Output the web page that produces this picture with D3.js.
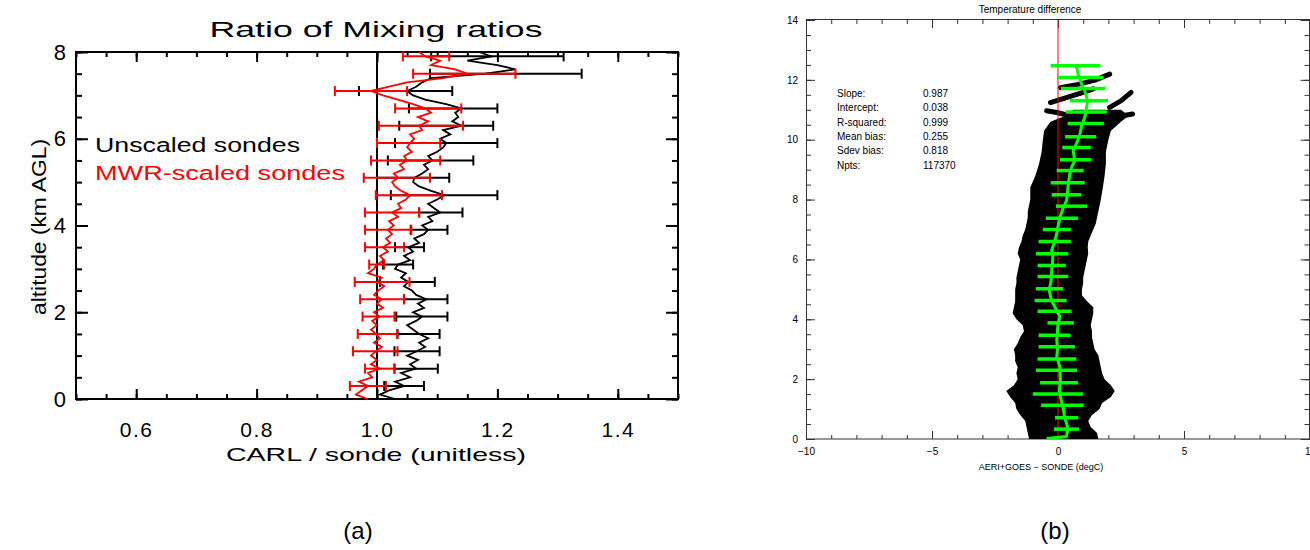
<!DOCTYPE html>
<html><head><meta charset="utf-8">
<script src="https://cdn.jsdelivr.net/npm/d3@7"></script>
<style>body{margin:0;background:#fff}svg{display:block}</style>
</head><body>
<svg id="c" width="1310" height="550"></svg>
<script>
// ---------------- DATA: panel (a) ----------------
const altA = [0,0.1,0.2,0.3,0.4,0.5,0.6,0.7,0.8,0.9,1.0,1.1,1.2,1.3,1.4,1.5,1.6,1.7,1.8,1.9,
  2.0,2.1,2.2,2.3,2.4,2.5,2.6,2.7,2.8,2.9,3.0,3.1,3.2,3.3,3.4,3.5,3.6,3.7,3.8,3.9,
  4.0,4.1,4.2,4.3,4.4,4.5,4.6,4.7,4.8,4.9,5.0,5.1,5.2,5.3,5.4,5.5,5.6,5.7,5.8,5.9,
  6.0,6.1,6.2,6.3,6.4,6.5,6.6,6.7,6.8,6.9,7.0,7.1,7.2,7.3,7.4,7.5,7.6,7.7,7.8,7.9,8.0];
const unscaled = [1.030,1.005,1.020,1.045,1.030,1.055,1.040,1.065,1.055,1.068,1.050,1.066,1.080,1.070,1.085,1.070,1.060,1.050,1.065,1.075,
  1.060,1.078,1.068,1.082,1.065,1.058,1.045,1.052,1.040,1.048,1.030,1.035,1.055,1.045,1.060,1.052,1.070,1.062,1.078,1.085,
  1.075,1.092,1.085,1.105,1.095,1.085,1.100,1.112,1.090,1.070,1.060,1.062,1.075,1.085,1.078,1.092,1.085,1.100,1.110,1.115,
  1.105,1.122,1.110,1.140,1.125,1.135,1.130,1.140,1.115,1.080,1.060,1.050,1.065,1.075,1.090,1.180,1.230,1.200,1.150,1.190,1.170];
const mwrScaled = [0.985,0.965,0.975,0.985,0.970,0.992,0.985,1.005,0.990,1.000,0.990,0.998,1.008,0.995,1.005,0.998,0.990,1.000,0.992,1.004,
  0.995,1.010,1.000,1.008,0.995,1.002,1.012,1.000,1.008,0.985,0.995,1.000,1.012,1.005,1.018,1.010,1.022,1.015,1.025,1.018,
  1.028,1.020,1.035,1.025,1.040,1.035,1.048,1.055,1.040,1.030,1.025,1.035,1.028,1.045,1.038,1.050,1.045,1.058,1.050,1.055,
  1.062,1.055,1.075,1.070,1.085,1.068,1.090,1.080,1.060,1.035,1.010,0.990,1.020,1.050,1.110,1.150,1.130,1.090,1.105,1.080,1.070];
const barAltA = [0.3,0.7,1.1,1.5,1.9,2.3,2.7,3.1,3.5,3.9,4.3,4.7,5.1,5.5,5.9,6.3,6.7,7.1,7.5,7.9];
const unscaledLo = [1.012,1.029,1.029,1.034,1.032,1.045,1.005,1.010,1.030,1.056,1.070,1.023,1.000,1.018,1.030,1.037,1.053,0.970,1.088,1.090];
const unscaledHi = [1.078,1.101,1.104,1.104,1.117,1.117,1.096,1.060,1.078,1.117,1.142,1.200,1.120,1.160,1.200,1.193,1.200,1.125,1.340,1.310];
const mwrLo = [0.955,0.980,0.960,0.968,0.976,0.972,0.963,0.987,0.980,0.980,0.980,0.998,0.978,0.990,1.000,1.003,1.030,0.930,1.060,1.043];
const mwrHi = [1.015,1.029,1.034,1.034,1.029,1.045,1.054,1.012,1.045,1.057,1.070,1.108,1.088,1.105,1.105,1.143,1.140,1.050,1.230,1.120];
const xMajorA = [0.6,0.8,1.0,1.2,1.4];
const yMajorA = [0,2,4,6,8];
const legendA = ["Unscaled sondes","MWR-scaled sondes"];

// ---------------- DATA: panel (b) ----------------
const cloudAlt = [0.0,0.2,0.4,0.6,0.8,1.0,1.2,1.4,1.6,1.8,2.0,2.2,2.4,2.6,2.8,3.0,3.2,3.4,3.6,3.8,
  4.0,4.2,4.4,4.6,4.8,5.0,5.2,5.4,5.6,5.8,6.0,6.2,6.4,6.6,6.8,7.0,7.2,7.4,7.6,7.8,
  8.0,8.4,8.8,9.2,9.6,10.0,10.3,10.6,10.8,11.0];
const cloudLeft = [-1.15,-1.2,-1.25,-1.3,-1.5,-1.65,-1.7,-1.9,-2.05,-1.75,-1.6,-1.65,-1.6,-1.7,-1.7,-1.75,-1.6,-1.5,-1.35,-1.4,
  -1.65,-1.8,-1.75,-1.7,-1.7,-1.7,-1.65,-1.65,-1.6,-1.55,-1.5,-1.6,-1.55,-1.45,-1.4,-1.3,-1.25,-1.2,-1.2,-1.15,
  -1.1,-1.1,-0.9,-0.75,-0.65,-0.6,-0.55,-0.3,0.3,0.6];
const cloudRight = [1.6,1.55,1.3,1.2,1.35,1.65,1.75,2.1,2.25,2.1,1.85,1.75,1.7,1.65,1.6,1.45,1.4,1.35,1.35,1.3,
  1.35,1.4,1.4,1.15,0.95,0.95,1.0,1.0,1.05,1.1,1.15,1.2,1.18,1.2,1.3,1.4,1.5,1.55,1.6,1.65,
  1.7,1.78,1.85,1.9,1.9,2.0,2.1,2.5,2.8,2.5];
const streaks = [
  [[0.1,11.74],[0.8,11.85],[1.5,12.0],[2.05,12.19]],
  [[-0.3,11.24],[0.3,11.4],[1.0,11.58],[1.4,11.7]],
  [[2.05,11.08],[2.5,11.3],[2.9,11.58]],
  [[-0.45,10.97],[0.0,10.9],[0.47,10.8]],
  [[1.52,10.63],[2.2,10.75],[2.96,10.86]]
];
const meanAlt = [0.02,0.08,0.3,0.5,0.74,1.08,1.3,1.63,1.9,2.19,2.41,2.74,3.0,3.3,3.6,3.86,4.08,4.25,4.41,4.63,
  4.97,5.25,5.53,5.85,6.19,6.3,6.63,6.86,7.1,7.41,7.7,7.97,8.25,8.52,8.86,9.1,9.3,9.63,9.9,10.19,
  10.5,10.74,11.0,11.3,11.63,11.85,12.19,12.47];
const meanDiff = [-0.45,0.33,0.39,0.35,0.26,0.2,0.13,0.05,0.1,0.08,0.08,-0.05,-0.02,-0.05,-0.02,0.0,0.08,-0.02,-0.12,-0.26,
  -0.35,-0.28,-0.26,-0.22,-0.2,-0.25,-0.12,-0.05,0.0,0.08,0.2,0.34,0.38,0.41,0.47,0.55,0.67,0.6,0.75,0.87,
  0.95,1.06,1.12,1.18,1.06,0.94,0.8,0.73];
const barAltB = [0.33,0.71,1.13,1.5,1.88,2.3,2.67,3.08,3.47,3.88,4.27,4.63,5.02,5.43,5.8,6.19,
  6.6,7.0,7.38,7.78,8.16,8.56,8.97,9.33,9.74,10.1,10.54,10.93,11.3,11.71,12.08,12.47];
const barLoB = [-0.16,-0.12,-0.67,-1.0,-0.71,-0.87,-0.81,-0.77,-0.77,-0.42,-0.81,-0.93,-0.88,-0.81,-0.81,-0.87,
  -0.77,-0.6,-0.48,-0.08,-0.25,-0.29,-0.05,0.08,0.17,0.28,0.38,0.31,0.47,0.12,-0.03,-0.29];
const barHiB = [0.84,0.8,1.02,1.0,0.8,0.76,0.73,0.67,0.5,0.63,0.54,0.34,0.21,0.41,0.31,0.41,
  0.51,0.51,0.8,1.15,0.93,1.06,1.02,1.33,1.3,1.52,1.82,1.94,1.98,1.89,1.81,1.68];
const statLabels = ["Slope:","Intercept:","R-squared:","Mean bias:","Sdev bias:","Npts:"];
const statValues = ["0.987","0.038","0.999","0.255","0.818","117370"];
const xMajorB = [-10,-5,0,5,10];
const yMajorB = [0,2,4,6,8,10,12,14];
const captions = ["(a)","(b)"];

// ---------------- DRAW ----------------
const FONT = "'Liberation Sans', Arial, sans-serif";
const svg = d3.select('#c');

function styleAxis(sel, fs, sw, col) {
  sel.select('.domain').remove();
  sel.selectAll('line').attr('stroke', col).attr('stroke-width', sw);
  sel.selectAll('text').attr('font-family', FONT).attr('font-size', fs).attr('fill', '#000');
}

// ===== Panel (a) =====
const xA = d3.scaleLinear().domain([0.5, 1.5]).range([76, 678]);
const yA = d3.scaleLinear().domain([0, 8]).range([399, 52]);
const A = svg.append('g');

A.append('g').attr('transform', 'translate(0,399)')
  .call(d3.axisBottom(xA).tickValues(xA.ticks(20)).tickSizeInner(-5).tickSizeOuter(0).tickFormat(''))
  .call(styleAxis, 21, 2, '#000');
A.append('g').attr('transform', 'translate(0,399)')
  .call(d3.axisBottom(xA).tickValues(xMajorA).tickSizeInner(-10).tickSizeOuter(0).tickPadding(23).tickFormat(d3.format('.1f')))
  .call(styleAxis, 21, 2, '#000');
A.selectAll('text').attr('letter-spacing', 1.5);
A.append('g').attr('transform', 'translate(0,52)')
  .call(d3.axisTop(xA).tickValues(xA.ticks(20)).tickSizeInner(-5).tickSizeOuter(0).tickFormat(''))
  .call(styleAxis, 22, 2, '#000');
A.append('g').attr('transform', 'translate(0,52)')
  .call(d3.axisTop(xA).tickValues(xMajorA).tickSizeInner(-10).tickSizeOuter(0).tickFormat(''))
  .call(styleAxis, 22, 2, '#000');
A.append('g').attr('transform', 'translate(76,0)')
  .call(d3.axisLeft(yA).tickValues(yA.ticks(16)).tickSizeInner(-6).tickSizeOuter(0).tickFormat(''))
  .call(styleAxis, 22, 2, '#000');
A.append('g').attr('transform', 'translate(76,0)')
  .call(d3.axisLeft(yA).tickValues(yMajorA).tickSizeInner(-12).tickSizeOuter(0).tickPadding(10).tickFormat(d3.format('d')))
  .call(styleAxis, 22, 2, '#000');
A.append('g').attr('transform', 'translate(678,0)')
  .call(d3.axisRight(yA).tickValues(yA.ticks(16)).tickSizeInner(-6).tickSizeOuter(0).tickFormat(''))
  .call(styleAxis, 22, 2, '#000');
A.append('g').attr('transform', 'translate(678,0)')
  .call(d3.axisRight(yA).tickValues(yMajorA).tickSizeInner(-12).tickSizeOuter(0).tickFormat(''))
  .call(styleAxis, 22, 2, '#000');

A.append('rect').attr('x', xA(0.5)).attr('y', yA(8)).attr('width', xA(1.5) - xA(0.5)).attr('height', yA(0) - yA(8))
  .attr('fill', 'none').attr('stroke', '#000').attr('stroke-width', 2);
A.append('line').attr('x1', xA(1)).attr('x2', xA(1)).attr('y1', yA(0)).attr('y2', yA(8))
  .attr('stroke', '#000').attr('stroke-width', 2);

const lineA = d3.line().x(d => xA(d[0])).y(d => yA(d[1]));
function drawSeries(vals, lo, hi, col) {
  A.append('path').datum(altA.map((a, i) => [vals[i], a]))
    .attr('d', lineA).attr('fill', 'none').attr('stroke', col).attr('stroke-width', 1.8).attr('stroke-linejoin', 'miter');
  const eb = A.append('g').attr('stroke', col).attr('stroke-width', 2);
  barAltA.forEach((a, i) => {
    eb.append('line').attr('x1', xA(lo[i])).attr('x2', xA(hi[i])).attr('y1', yA(a)).attr('y2', yA(a));
    [lo[i], hi[i]].forEach(v => eb.append('line').attr('x1', xA(v)).attr('x2', xA(v)).attr('y1', yA(a) - 5).attr('y2', yA(a) + 5));
  });
}
drawSeries(unscaled, unscaledLo, unscaledHi, '#000');
drawSeries(mwrScaled, mwrLo, mwrHi, '#ff0000');

A.append('text').attr('x', 376).attr('y', 37).attr('text-anchor', 'middle')
  .attr('font-family', FONT).attr('font-size', 22).attr('textLength', 333).attr('lengthAdjust', 'spacingAndGlyphs')
  .text('Ratio of Mixing ratios');
A.append('text').attr('x', 376).attr('y', 461).attr('text-anchor', 'middle')
  .attr('font-family', FONT).attr('font-size', 19).attr('textLength', 300).attr('lengthAdjust', 'spacingAndGlyphs')
  .text('CARL / sonde (unitless)');
A.append('text').attr('transform', 'translate(46,227) rotate(-90)').attr('text-anchor', 'middle')
  .attr('font-family', FONT).attr('font-size', 20).attr('textLength', 176).attr('lengthAdjust', 'spacingAndGlyphs')
  .text('altitude (km AGL)');
const legLen = [205, 250], legCol = ['#000', '#ff0000'];
legendA.forEach((t, i) => {
  A.append('text').attr('x', 95).attr('y', 152 + i * 28).attr('fill', legCol[i])
    .attr('font-family', FONT).attr('font-size', 20).attr('textLength', legLen[i]).attr('lengthAdjust', 'spacingAndGlyphs')
    .text(t);
});

// ===== Panel (b) =====
const xB = d3.scaleLinear().domain([-10, 10]).range([806, 1310]);
const yB = d3.scaleLinear().domain([0, 14]).range([439, 20]);
const B = svg.append('g');
const axC = '#333';

B.append('g').attr('transform', 'translate(0,439)')
  .call(d3.axisBottom(xB).tickValues(xB.ticks(20)).tickSizeInner(-4).tickSizeOuter(0).tickFormat(''))
  .call(styleAxis, 10, 1, axC);
B.append('g').attr('transform', 'translate(0,439)')
  .call(d3.axisBottom(xB).tickValues(xMajorB).tickSizeInner(-8).tickSizeOuter(0).tickPadding(9).tickFormat(d3.format('d')))
  .call(styleAxis, 10, 1, axC);
B.append('g').attr('transform', 'translate(0,20)')
  .call(d3.axisTop(xB).tickValues(xB.ticks(20)).tickSizeInner(-4).tickSizeOuter(0).tickFormat(''))
  .call(styleAxis, 10, 1, axC);
B.append('g').attr('transform', 'translate(0,20)')
  .call(d3.axisTop(xB).tickValues(xMajorB).tickSizeInner(-8).tickSizeOuter(0).tickFormat(''))
  .call(styleAxis, 10, 1, axC);
B.append('g').attr('transform', 'translate(806,0)')
  .call(d3.axisLeft(yB).tickValues(yB.ticks(28)).tickSizeInner(-5).tickSizeOuter(0).tickFormat(''))
  .call(styleAxis, 10, 1, axC);
B.append('g').attr('transform', 'translate(806,0)')
  .call(d3.axisLeft(yB).tickValues(yMajorB).tickSizeInner(-9).tickSizeOuter(0).tickPadding(8).tickFormat(d3.format('d')))
  .call(styleAxis, 10, 1, axC);
B.append('g').attr('transform', 'translate(1309.5,0)')
  .call(d3.axisRight(yB).tickValues(yB.ticks(28)).tickSizeInner(-5).tickSizeOuter(0).tickFormat(''))
  .call(styleAxis, 10, 1, axC);
B.append('g').attr('transform', 'translate(1309.5,0)')
  .call(d3.axisRight(yB).tickValues(yMajorB).tickSizeInner(-9).tickSizeOuter(0).tickFormat(''))
  .call(styleAxis, 10, 1, axC);
B.append('rect').attr('x', 806.5).attr('y', 19.5).attr('width', 1309.5 - 806.5).attr('height', 419.5)
  .attr('fill', 'none').attr('stroke', axC).attr('stroke-width', 1);

// black scatter cloud
const cloud = cloudAlt.map((a, i) => ({a, l: cloudLeft[i], r: cloudRight[i]}));
B.append('path').datum(cloud)
  .attr('d', d3.area().y(d => yB(d.a)).x0(d => xB(d.l)).x1(d => xB(d.r)))
  .attr('fill', '#000');
const lineB = d3.line().x(d => xB(d[0])).y(d => yB(d[1]));
streaks.forEach(s => B.append('path').datum(s).attr('d', lineB)
  .attr('fill', 'none').attr('stroke', '#000').attr('stroke-width', 5).attr('stroke-linecap', 'round'));

// zero line
B.append('line').attr('x1', xB(0)).attr('x2', xB(0)).attr('y1', yB(0)).attr('y2', yB(14))
  .attr('stroke', '#ff0000').attr('stroke-width', 1);

// green bars + mean
const gb = B.append('g').attr('stroke', '#00ff00').attr('stroke-width', 3.5);
barAltB.forEach((a, i) => gb.append('line').attr('x1', xB(barLoB[i])).attr('x2', xB(barHiB[i])).attr('y1', yB(a)).attr('y2', yB(a)));
B.append('path').datum(meanAlt.map((a, i) => [meanDiff[i], a])).attr('d', lineB)
  .attr('fill', 'none').attr('stroke', '#00ff00').attr('stroke-width', 3);

// stats text
statLabels.forEach((t, i) => {
  B.append('text').attr('x', 837).attr('y', 97 + i * 14.3).attr('font-family', FONT).attr('font-size', 10).text(t);
  B.append('text').attr('x', 923).attr('y', 97 + i * 14.3).attr('font-family', FONT).attr('font-size', 10).text(statValues[i]);
});
B.append('text').attr('x', 1030).attr('y', 13).attr('text-anchor', 'middle')
  .attr('font-family', FONT).attr('font-size', 10).text('Temperature difference');
B.append('text').attr('x', 1041).attr('y', 470).attr('text-anchor', 'middle')
  .attr('font-family', FONT).attr('font-size', 9).text('AERI+GOES \u2212 SONDE (degC)');

// captions
const capX = [358, 1055];
captions.forEach((t, i) => svg.append('text').attr('x', capX[i]).attr('y', 539).attr('text-anchor', 'middle')
  .attr('font-family', FONT).attr('font-size', 24).text(t));
</script>
</body></html>
